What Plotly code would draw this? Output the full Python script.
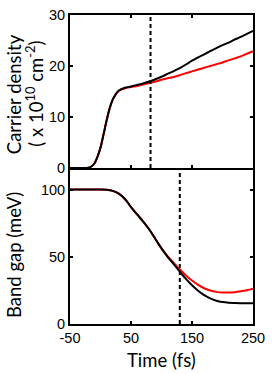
import plotly.graph_objects as go

# ---- data ----
t_top = [-50, -40, -30, -20, -15, -10, -5, 0, 5, 10, 15, 20, 25, 30, 40, 50, 60, 70, 80, 90,
         100, 110, 120, 130, 140, 150, 160, 170, 180, 190, 200, 210, 220, 230, 240, 250]
carrier_black = [0, 0, 0, 0.05, 0.3, 0.9, 2.2, 4.0, 6.6, 9.3, 11.7, 13.4, 14.5, 15.2, 15.75, 16.0,
                 16.3, 16.6, 16.95, 17.4, 17.9, 18.45, 19.0, 19.6, 20.3, 21.05, 21.7, 22.3, 22.9,
                 23.5, 24.1, 24.6, 25.2, 25.7, 26.3, 26.9]
carrier_red = [0, 0, 0, 0.05, 0.3, 0.9, 2.2, 4.0, 6.6, 9.3, 11.7, 13.4, 14.4, 15.1, 15.65, 15.9,
               16.1, 16.35, 16.65, 16.95, 17.3, 17.6, 17.85, 18.2, 18.6, 18.95, 19.3, 19.65, 20.0,
               20.35, 20.7, 21.1, 21.5, 21.9, 22.4, 22.9]

t_bot = [-50, -30, -10, 0, 10, 20, 30, 40, 50, 60, 70, 80, 90, 100, 110, 120, 130, 140, 150,
         160, 170, 180, 190, 200, 210, 220, 230, 240, 250]
gap_black = [100, 100, 100, 100, 99.8, 99.0, 97.0, 93.0, 87.0, 81.5, 76.2, 70.3, 63.2, 56.2,
             50.0, 44.5, 39.0, 33.5, 28.8, 24.8, 21.5, 19.0, 17.3, 16.3, 15.8, 15.6, 15.5, 15.5, 15.5]
gap_red = [100, 100, 100, 100, 99.8, 99.0, 97.0, 93.0, 87.0, 81.5, 76.2, 70.3, 63.2, 56.3,
           50.4, 45.4, 40.6, 36.1, 32.3, 29.1, 26.6, 24.9, 23.9, 23.4, 23.4, 23.7, 24.3, 25.1, 26.2]

marker_top_t = 82
marker_bot_t = 130

xticks = [-50, 50, 150, 250]
xticklabels = ["-50", "50", "150", "250"]
yticks_top = [0, 10, 20, 30]
yticks_bot = [0, 50, 100]

fig = go.Figure()
fig.add_trace(go.Scatter(x=t_top, y=carrier_red, mode="lines", line=dict(color="#ff0000", width=2, shape="spline"), xaxis="x", yaxis="y"))
fig.add_trace(go.Scatter(x=t_top, y=carrier_black, mode="lines", line=dict(color="#000000", width=2, shape="spline"), xaxis="x", yaxis="y"))
fig.add_trace(go.Scatter(x=[marker_top_t, marker_top_t], y=[0, 30], mode="lines", line=dict(color="#000000", width=2, dash="4px,3px"), xaxis="x", yaxis="y"))

fig.add_trace(go.Scatter(x=t_bot, y=gap_red, mode="lines", line=dict(color="#ff0000", width=2, shape="spline"), xaxis="x2", yaxis="y2"))
fig.add_trace(go.Scatter(x=t_bot, y=gap_black, mode="lines", line=dict(color="#000000", width=2, shape="spline"), xaxis="x2", yaxis="y2"))
fig.add_trace(go.Scatter(x=[marker_bot_t, marker_bot_t], y=[0, 116], mode="lines", line=dict(color="#000000", width=2, dash="4px,3px"), xaxis="x2", yaxis="y2"))

split = (324 - 164) / 317.0
axis_common = dict(showline=True, linecolor="black", linewidth=2, ticks="inside", ticklen=3,
                   tickwidth=1.5, tickcolor="black", showgrid=False, zeroline=False,
                   tickfont=dict(family="Liberation Sans, Arial", size=14.5, color="black"))

fig.update_layout(
    width=272, height=374,
    margin=dict(l=70, r=13, t=7, b=50),
    paper_bgcolor="white", plot_bgcolor="white",
    showlegend=False,
    xaxis=dict(domain=[0, 1], anchor="y", range=[-50, 250], tickvals=xticks, ticktext=xticklabels,
               showticklabels=False, mirror="ticks", **axis_common),
    yaxis=dict(domain=[split, 1], anchor="x", range=[0, 30], tickvals=yticks_top,
               mirror="ticks", **axis_common),
    xaxis2=dict(domain=[0, 1], anchor="y2", range=[-50, 250], tickvals=xticks, ticktext=xticklabels,
                mirror=False, **axis_common),
    yaxis2=dict(domain=[0, split], anchor="x2", range=[0, 116], tickvals=yticks_bot,
                mirror="ticks", **axis_common),
)

title_font = dict(family="Lato, Open Sans, sans-serif", size=18.5, color="black")
fig.add_annotation(text="Carrier density", xref="paper", yref="paper", x=-70/189, y=(324-88)/317,
                   xanchor="left", yanchor="middle", textangle=-90, showarrow=False, font=title_font,
                   xshift=-1)
fig.add_annotation(text="( x 10<sup>10</sup> cm<sup>-2</sup>)", xref="paper", yref="paper", x=-70/189,
                   y=(324-88)/317, xanchor="left", yanchor="middle", textangle=-90, showarrow=False,
                   font=title_font, xshift=18)
fig.add_annotation(text="Band gap (meV)", xref="paper", yref="paper", x=-70/189, y=(324-253)/317,
                   xanchor="left", yanchor="middle", textangle=-90, showarrow=False, font=title_font,
                   xshift=-1)
fig.add_annotation(text="Time (fs)", xref="paper", yref="paper", x=(164-70)/189, y=-(361-324)/317,
                   xanchor="center", yanchor="middle", showarrow=False, font=title_font)

fig.write_html("out.html", config={"displayModeBar": False},
               post_script="document.body.style.margin='0px';document.body.style.overflow='hidden';")
